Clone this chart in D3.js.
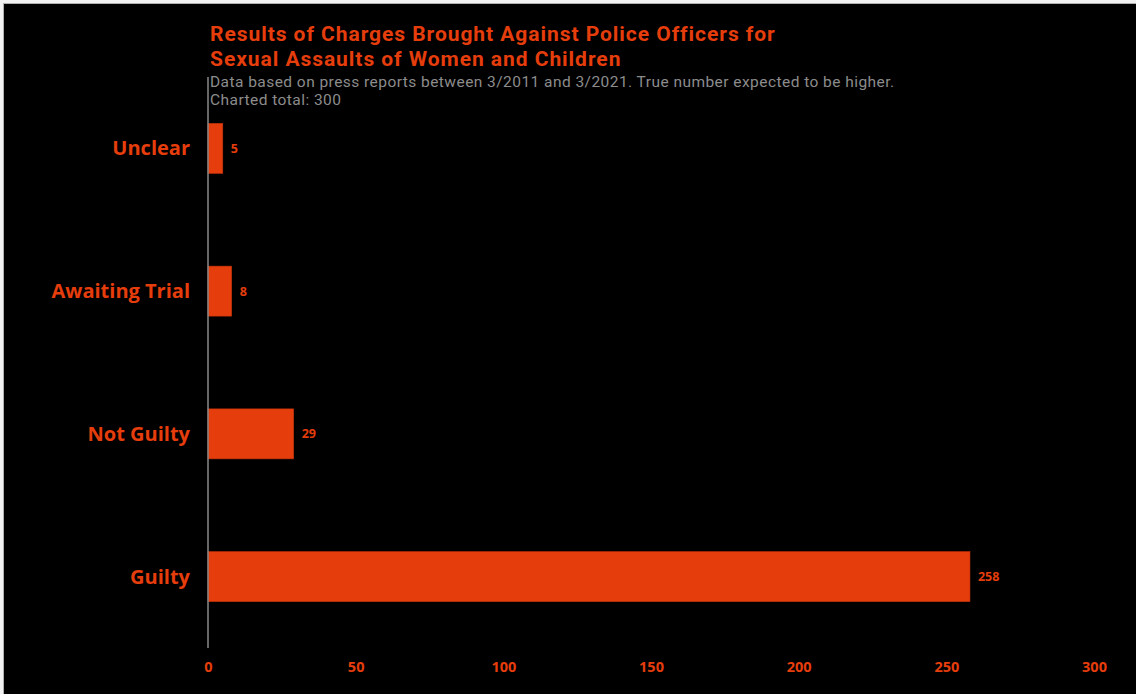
<!DOCTYPE html>
<html><head><meta charset="utf-8">
<script src="https://cdn.jsdelivr.net/npm/d3@7"></script>
<style>
html,body{margin:0;padding:0;background:#f2f2f2;}
svg{display:block;}
</style></head>
<body>
<script>
const categories = ["Unclear", "Awaiting Trial", "Not Guilty", "Guilty"];
const values = [5, 8, 29, 258];
const xTicks = [0, 50, 100, 150, 200, 250, 300];
const titleLines = ["Results of Charges Brought Against Police Officers for", "Sexual Assaults of Women and Children"];
const subtitleLines = ["Data based on press reports between 3/2011 and 3/2021. True number expected to be higher.", "Charted total: 300"];

const W = 1136, H = 694;
const orange = "#e63d0c";
const font = "'Open Sans', sans-serif";
const headFont = "Roboto, sans-serif";
const svg = d3.select("body").append("svg").attr("width", W).attr("height", H);
svg.append("rect").attr("x", 3).attr("y", 3).attr("width", W - 3).attr("height", H - 3).attr("fill", "#b0b0b0");
svg.append("rect").attr("x", 4).attr("y", 4).attr("width", W - 4).attr("height", H - 4).attr("fill", "#000");

const x = d3.scaleLinear().domain([0, 300]).range([208, 1094]);
const y = d3.scaleBand().domain(categories).range([77, 648]).paddingInner(0.65).paddingOuter(0.325);

// bars
svg.selectAll("rect.bar").data(categories).enter().append("rect")
  .attr("class", "bar")
  .attr("x", x(0)).attr("y", d => y(d))
  .attr("width", (d, i) => x(values[i]) - x(0))
  .attr("height", y.bandwidth())
  .attr("fill", orange).attr("stroke", "#c8340a").attr("stroke-width", 0.6);

// value labels
svg.selectAll("text.val").data(categories).enter().append("text")
  .attr("x", (d, i) => x(values[i]) + 8)
  .attr("y", d => y(d) + y.bandwidth() / 2)
  .attr("dy", "0.35em")
  .attr("fill", orange).attr("font-family", font).attr("font-weight", 700).attr("font-size", 12.5)
  .text((d, i) => values[i]);

// y axis line + category labels
svg.append("line").attr("x1", x(0)).attr("x2", x(0)).attr("y1", 77).attr("y2", 648)
  .attr("stroke", "#8a8a8a").attr("stroke-width", 1.5);
svg.selectAll("text.cat").data(categories).enter().append("text")
  .attr("x", 190).attr("y", d => y(d) + y.bandwidth() / 2).attr("dy", "0.35em")
  .attr("text-anchor", "end")
  .attr("fill", orange).attr("font-family", font).attr("font-weight", 700).attr("font-size", 20)
  .text(d => d);

// x axis
const xAxis = d3.axisBottom(x).tickValues(xTicks).tickSize(0).tickPadding(0);
const gx = svg.append("g").attr("transform", "translate(0,662)").call(xAxis);
gx.select(".domain").remove();
gx.selectAll("text").attr("fill", orange).attr("font-family", font).attr("font-weight", 700).attr("font-size", 14.5);

// title
svg.selectAll("text.title").data(titleLines).enter().append("text")
  .attr("class", "title")
  .attr("x", 210).attr("y", (d, i) => 40.5 + i * 25)
  .attr("fill", orange).attr("font-family", headFont).attr("font-weight", 700).attr("font-size", 21)
  .attr("letter-spacing", 0.95)
  .text(d => d);
svg.selectAll("text.sub").data(subtitleLines).enter().append("text")
  .attr("class", "sub")
  .attr("x", 210).attr("y", (d, i) => 86.5 + i * 18.5)
  .attr("fill", "#8c8c8c").attr("font-family", headFont).attr("font-size", 15.5)
  .attr("letter-spacing", 0.45)
  .text(d => d);
</script>
</body></html>
